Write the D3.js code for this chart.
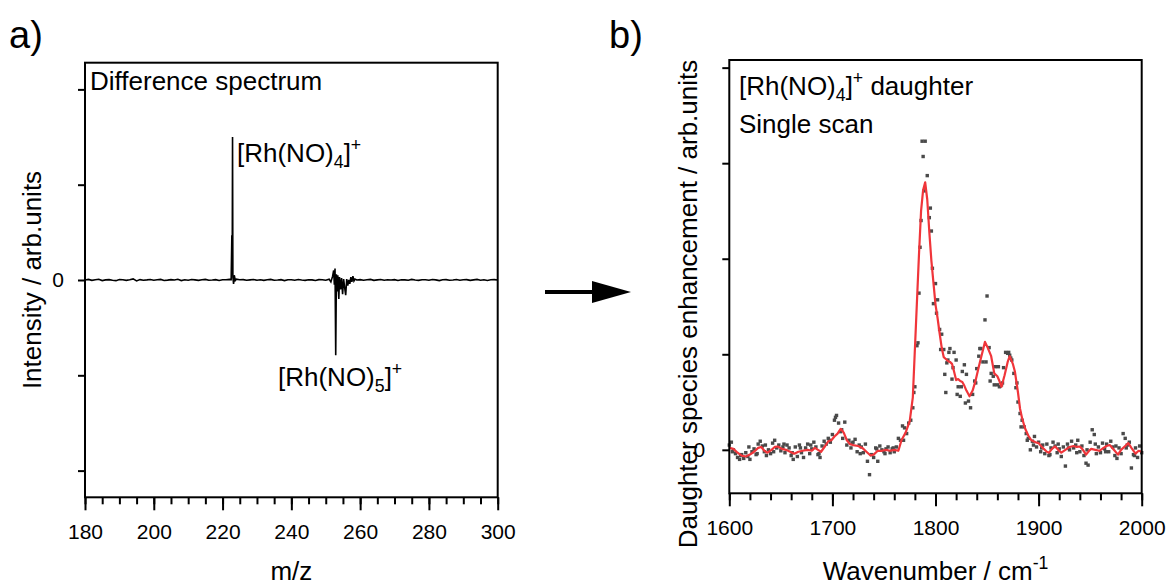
<!DOCTYPE html>
<html><head><meta charset="utf-8">
<script src="https://cdn.jsdelivr.net/npm/d3@7"></script>
<style>
body{margin:0;background:#fff;}
svg{display:block;font-family:"Liberation Sans",Arial,sans-serif;}
.tick text{font-size:21px !important;fill:#000;font-family:"Liberation Sans",Arial,sans-serif;}
</style></head>
<body>
<svg id="c" width="1167" height="585"></svg>
<script>
// ---------- Panel a data (m/z, intensity) ----------
const mzA = [180,181,182,183,184,185,186,187,188,189,190,191,192,193,194,195,196,197,198,199,
200,201,202,203,204,205,206,207,208,209,210,211,212,213,214,215,216,217,218,219,220,221,222,
222.5,222.7,222.8,222.9,223.0,223.2,223.4,223.7,224,
225,226,227,228,229,230,231,232,233,234,235,236,237,238,239,240,241,242,243,244,245,246,247,248,249,250,
251,251.5,252,252.3,252.5,252.7,252.9,253.1,253.3,253.5,253.8,254,254.3,254.6,254.9,255.2,255.5,255.8,256.1,256.4,256.7,257,257.3,257.6,257.9,258.2,258.5,259,
260,261,262,263,264,265,266,267,268,269,270,271,272,273,274,275,276,277,278,279,280,281,282,283,284,285,286,287,288,289,290,291,292,293,294,295,296,297,298,299,300];
const intA = [0.000,0.006,-0.004,0.002,0.008,-0.006,0.001,0.004,-0.003,-0.007,0.005,0.002,-0.004,0.003,0.012,-0.010,0.004,-0.002,0.001,0.005,
-0.003,0.002,0.006,-0.005,-0.001,0.004,0.000,0.007,-0.006,0.002,-0.002,0.005,0.001,-0.004,0.003,0.006,-0.003,0.000,0.004,-0.005,0.002,0.003,0.006,
0.004,0.47,0.05,1.50,0.03,-0.04,0.05,-0.005,0.008,
0.002,0.004,-0.003,0.001,0.005,-0.002,0.003,-0.004,0.002,0.006,-0.003,0.000,0.004,-0.006,0.002,0.003,-0.002,0.005,0.000,-0.004,0.003,0.001,-0.005,0.004,0.002,-0.003,
0.008,-0.02,0.04,0.10,-0.05,0.12,-0.79,0.06,-0.12,0.05,-0.20,0.03,-0.10,0.02,-0.15,0.01,-0.08,-0.16,0.01,-0.06,0.00,-0.04,0.03,-0.02,0.04,-0.01,0.01,0.000,
0.004,-0.002,0.003,0.006,-0.004,0.001,0.005,-0.003,0.002,0.000,0.004,-0.005,0.003,0.001,-0.002,0.006,0.000,-0.004,0.003,0.002,-0.003,0.005,0.001,-0.006,0.002,0.004,-0.002,0.000,0.005,-0.003,0.002,0.004,-0.004,0.001,0.006,-0.002,0.003,-0.005,0.002,0.004,0.000];
const ticksAMajor = [180,200,220,240,260,280,300];
const ticksAY = [-2,-1,0,1,2];

// ---------- Panel b data ----------
// single-scan points, one every 2 cm-1 from 1600 to 2000
const dotsB = [0.05,0.08,0.00,-0.04,-0.08,-0.10,-0.05,-0.09,-0.03,-0.07,
-0.10,-0.02,0.01,-0.05,0.06,0.09,0.04,-0.02,-0.06,0.00,
-0.04,0.07,0.10,0.02,0.05,-0.01,0.03,-0.03,0.05,0.02,
-0.06,-0.10,0.03,-0.07,0.05,-0.03,-0.08,0.02,0.06,-0.04,
0.01,0.08,0.03,-0.05,-0.08,0.04,0.09,0.06,0.12,0.08,
0.16,0.31,0.36,0.28,0.19,0.12,0.29,0.05,0.10,0.02,
0.08,0.11,-0.02,0.05,0.03,-0.03,0.06,-0.12,-0.26,-0.05,
-0.08,0.02,-0.12,0.04,0.00,-0.02,0.01,0.03,-0.03,0.01,
-0.02,0.03,0.12,0.10,0.25,0.23,0.17,0.28,0.31,0.44,
0.66,1.09,1.64,2.40,3.07,3.23,2.87,2.43,2.29,1.53,
1.74,1.57,1.26,1.21,1.05,0.60,0.94,1.06,0.74,1.02,
0.94,0.66,0.56,0.82,0.89,0.79,0.51,0.44,0.58,0.72,
0.85,0.98,1.06,0.92,1.36,1.61,1.07,0.80,0.77,0.87,
0.68,0.66,0.68,0.86,1.02,1.01,0.99,0.94,0.80,0.65,
0.50,0.38,0.31,0.24,0.17,0.12,0.00,0.09,0.14,0.03,
0.08,-0.02,0.05,-0.04,0.06,-0.06,0.02,0.08,0.04,-0.03,
0.01,-0.07,0.03,-0.17,0.06,0.00,0.09,0.02,0.05,0.10,
-0.02,0.04,-0.06,-0.14,-0.16,0.08,0.21,0.16,-0.04,0.03,
-0.03,0.07,0.01,0.06,-0.02,0.09,0.03,-0.06,-0.09,0.02,
-0.04,0.17,0.12,0.05,0.08,-0.19,-0.05,0.02,-0.08,0.04,-0.03];
const dotsW = d3.range(1600, 2001, 2);
// extra scan points read between grid positions
const extraW = [1603,1611,1619,1627,1635,1643,1653,1661,1669,1679,1687,1697,1703,1709,1719,1727,1743,1751,1759,1769,1779,1783,1785,1787,1789,1795,1797,1801,1805,1809,1811,1813,1817,1821,1825,1829,1839,1843,1849,1853,1857,1861,1865,1871,1873,1879,1883,1889,1895,1903,1911,1919,1929,1937,1947,1955,1965,1975,1985,1993];
const extraV = [-0.02,-0.06,0.03,-0.04,0.05,-0.02,0.06,-0.03,0.02,0.05,-0.04,0.10,0.34,0.21,0.07,-0.04,0.01,-0.04,0.02,0.10,0.60,1.12,2.12,3.23,2.71,2.53,1.90,1.43,1.05,0.79,0.91,1.02,0.86,0.58,0.66,0.49,0.70,1.06,0.92,0.72,0.68,0.87,0.70,1.02,0.96,0.70,0.24,0.10,0.05,0.02,-0.05,0.06,0.02,-0.03,0.00,0.06,-0.02,0.04,0.02,-0.06];
// smoothed curve
const lineW = [1600,1604,1608,1612,1616,1620,1624,1628,1631,1634,1637,1641,1644,1647,1651,1655,1659,1663,1667,1671,1676,1680,1683,1686,1689,1693,1696,1699,1702,1705,1708,1711,1714,1717,1720,1725,1729,1733,1737,1740,1744,1748,1752,1756,1760,1764,1767,1771,1775,1778,1780,1782,1784,1786,1788,1790,1792,1794,1796,1798,1800,1802,1804,1806,1808,1810,1812,1814,1816,1818,1820,1822,1824,1826,1828,1830,1833,1836,1839,1842,1845,1848,1851,1854,1857,1860,1862,1864,1867,1870,1872,1875,1877,1880,1882,1884,1887,1890,1893,1897,1900,1904,1908,1910,1913,1916,1919,1922,1926,1930,1934,1937,1940,1943,1946,1949,1951,1955,1959,1963,1966,1969,1973,1977,1980,1984,1987,1990,1994,1997,2000];
const lineV = [0.02,0.01,-0.03,-0.06,-0.07,-0.05,-0.02,0.02,0.03,-0.01,-0.03,0.00,0.03,0.035,0.01,0.00,-0.02,-0.04,-0.02,-0.01,0.00,-0.01,0.02,0.00,-0.02,0.04,0.09,0.10,0.14,0.17,0.22,0.18,0.10,0.06,0.05,0.04,0.02,-0.02,-0.06,-0.05,-0.01,-0.01,0.00,-0.01,0.00,-0.01,0.10,0.18,0.30,0.55,1.05,1.55,2.05,2.50,2.72,2.80,2.62,2.28,1.98,1.75,1.52,1.38,1.22,1.07,0.97,0.95,0.93,0.92,0.90,0.82,0.73,0.74,0.72,0.71,0.67,0.62,0.56,0.62,0.73,0.87,1.00,1.13,1.06,0.98,0.80,0.77,0.72,0.66,0.78,0.92,0.98,0.90,0.82,0.60,0.43,0.33,0.22,0.15,0.10,0.08,0.07,0.02,-0.02,-0.03,0.01,0.035,0.00,-0.03,0.00,0.03,0.04,0.03,0.035,0.00,-0.05,-0.01,0.01,0.00,-0.01,0.02,0.04,0.05,0.00,-0.05,0.00,0.04,0.07,0.02,-0.04,-0.01,-0.02];
const ticksBMajor = [1600,1700,1800,1900,2000];
const ticksBY = [0,1,2,3,4];

const svg = d3.select("#c");
const FS = 26;

function subLabel(g, x, y, sub, supTxt, tail, size) {
  const t = g.append("text").attr("x", x).attr("y", y).style("font-size", size + "px").attr("fill", "#000");
  t.append("tspan").text("[Rh(NO)");
  t.append("tspan").style("font-size", (size*0.68) + "px").attr("dy", 6).text(sub);
  t.append("tspan").attr("dy", -6).text("]");
  t.append("tspan").style("font-size", (size*0.68) + "px").attr("dy", -11).text(supTxt);
  if (tail) t.append("tspan").attr("dy", 11).text(tail);
  return t;
}

function frame(x, y) {
  svg.append("rect")
    .attr("x", x.range()[0]).attr("y", y.range()[1])
    .attr("width", x.range()[1]-x.range()[0]).attr("height", y.range()[0]-y.range()[1])
    .attr("fill", "none").attr("stroke", "#000").attr("stroke-width", 2);
}

function axes(x, y, major, minor, yt, yPad) {
  const b = y.range()[0], l = x.range()[0];
  const gm = svg.append("g").attr("transform", `translate(0,${b})`)
    .call(d3.axisBottom(x).tickValues(minor).tickSize(7).tickFormat(""));
  const gM = svg.append("g").attr("transform", `translate(0,${b})`)
    .call(d3.axisBottom(x).tickValues(major).tickSize(13).tickPadding(14).tickFormat(d3.format("d")));
  const gy = svg.append("g").attr("transform", `translate(${l},0)`)
    .call(d3.axisLeft(y).tickValues(yt).tickSize(7).tickPadding(yPad).tickFormat(d => d === 0 ? "0" : ""));
  [gm, gM, gy].forEach(g => {
    g.attr("font-size", null).attr("font-family", null);
    g.select(".domain").remove();
    g.selectAll(".tick line").attr("stroke", "#000").attr("stroke-width", 2);
  });
}

// ---------- Panel a ----------
const xA = d3.scaleLinear().domain([180, 300]).range([85, 497.7]);
const yA = d3.scaleLinear().domain([-2.28, 2.28]).range([497.3, 62.7]);
const minorA = d3.range(180, 301, 5);
axes(xA, yA, ticksAMajor, minorA, ticksAY, 14);
svg.append("path")
  .datum(mzA.map((m, i) => [m, intA[i]]))
  .attr("fill", "none").attr("stroke", "#000").attr("stroke-width", 1.6)
  .attr("d", d3.line().x(d => xA(d[0])).y(d => yA(d[1])));
frame(xA, yA);

function txt(x, y, s, size, anchor, transform) {
  const t = svg.append("text").style("font-size", size + "px").attr("fill", "#000").text(s);
  if (transform) t.attr("transform", transform); else t.attr("x", x).attr("y", y);
  if (anchor) t.attr("text-anchor", anchor);
  return t;
}

txt(90, 90, "Difference spectrum", FS);
subLabel(svg, 237, 162, "4", "+", null, FS);
subLabel(svg, 278, 386, "5", "+", null, FS);
txt((xA.range()[0]+xA.range()[1])/2, 580, "m/z", FS, "middle");
txt(0, 0, "Intensity / arb.units", FS, "middle", "translate(41,280) rotate(-90)");
txt(9, 48, "a)", 38);

// ---------- Arrow ----------
svg.append("line").attr("x1", 545).attr("x2", 600).attr("y1", 292).attr("y2", 292)
  .attr("stroke", "#000").attr("stroke-width", 4);
svg.append("path").attr("d", "M592,281 L631,292 L592,303 Z").attr("fill", "#000");

// ---------- Panel b ----------
const xB = d3.scaleLinear().domain([1600, 2000]).range([729.3, 1141.7]);
const yB = d3.scaleLinear().domain([-0.455, 4.08]).range([493.3, 60]);
const minorB = d3.range(1600, 2001, 20);
axes(xB, yB, ticksBMajor, minorB, ticksBY, 17);

const dotData = dotsW.map((w, i) => [w, dotsB[i]]).concat(extraW.map((w, i) => [w, extraV[i]]));
svg.append("g").selectAll("rect").data(dotData).join("rect")
  .attr("x", d => xB(d[0]) - 1.7).attr("y", d => yB(d[1]) - 1.7)
  .attr("width", 3.4).attr("height", 3.4).attr("fill", "#4a4a4a");
svg.append("path")
  .datum(lineW.map((w, i) => [w, lineV[i]]))
  .attr("fill", "none").attr("stroke", "#f0353a").attr("stroke-width", 2.2)
  .attr("stroke-linejoin", "round")
  .attr("d", d3.line().x(d => xB(d[0])).y(d => yB(d[1])));
frame(xB, yB);

subLabel(svg, 739, 95, "4", "+", " daughter", FS);
txt(739, 133, "Single scan", FS);

const wt = txt((xB.range()[0]+xB.range()[1])/2, 580, "", FS, "middle");
wt.append("tspan").text("Wavenumber / cm");
wt.append("tspan").style("font-size", (FS*0.68) + "px").attr("dy", -11).text("-1");
txt(0, 0, "Daughter species enhancement / arb.units", FS, "middle", "translate(697,304) rotate(-90)");
txt(609, 48, "b)", 38);
</script>
</body></html>
